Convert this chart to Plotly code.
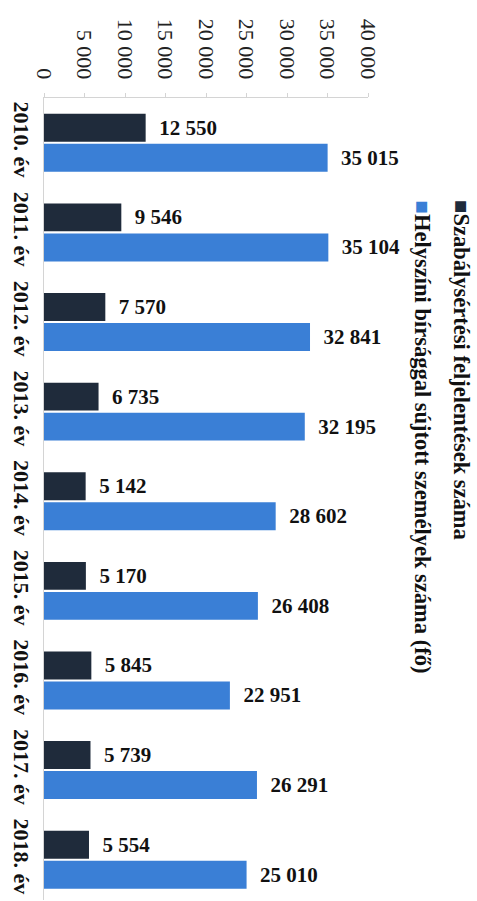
import plotly.graph_objects as go

categories = ["2010. év", "2011. év", "2012. év", "2013. év", "2014. év",
              "2015. év", "2016. év", "2017. év", "2018. év"]
feljelentesek = [12550, 9546, 7570, 6735, 5142, 5170, 5845, 5739, 5554]
helyszini = [35015, 35104, 32841, 32195, 28602, 26408, 22951, 26291, 25010]
tick_vals = [0, 5000, 10000, 15000, 20000, 25000, 30000, 35000, 40000]
tick_text = ["0", "5 000", "10 000", "15 000", "20 000", "25 000",
             "30 000", "35 000", "40 000"]

series_names = ["Szabálysértési feljelentések száma",
                "Helyszíni bírsággal sújtott személyek száma (fő)"]
colors = ["#1f2b3b", "#3a7fd6"]

FONT = "Liberation Serif"

fig = go.Figure()
for name, vals, col in zip(series_names, [feljelentesek, helyszini], colors):
    fig.add_trace(go.Bar(
        y=categories, x=vals, name=name, orientation="h",
        marker=dict(color=col, line=dict(width=0)),
        texttemplate="  %{x:,}", textposition="outside",
        textangle=0, cliponaxis=False,
        textfont=dict(family=FONT, size=21, color="#111111", weight="bold"),
        showlegend=False,
    ))

W, H = 477, 901
ml, mr, mt, mb = 44, 109, 98, 1
pw = W - ml - mr
ph = H - mt - mb

def px_x(p):
    return (p - ml) / pw

def px_y(p):
    return 1 - (p - mt) / ph

legend_x = [462, 422]
for name, col, lx in zip(series_names, colors, legend_x):
    fig.add_annotation(
        x=px_x(lx), y=px_y(198), xref="paper", yref="paper",
        xanchor="center", yanchor="top", textangle=90, showarrow=False,
        text="<span style='color:" + col + "'>■</span>" + name,
        font=dict(family=FONT, size=22.5, color="#111111", weight="bold"),
    )

fig.update_layout(
    width=W, height=H,
    margin=dict(l=ml, r=mr, t=mt, b=mb),
    paper_bgcolor="white", plot_bgcolor="white",
    barmode="group", bargap=0.33, bargroupgap=0.07,
    separators=", ",
    font=dict(family=FONT, color="#111111"),
    xaxis=dict(
        side="top", range=[0, 40000], tickvals=tick_vals, ticktext=tick_text,
        tickangle=90, showgrid=False, zeroline=False,
        showline=True, linecolor="#d4d4d4", linewidth=1,
        ticks="outside", ticklen=4, tickcolor="#d4d4d4",
        tickfont=dict(family=FONT, size=22, color="#222222"),
        ticklabelstandoff=6,
    ),
    yaxis=dict(
        categoryorder="array", categoryarray=categories,
        range=[8.45, -0.5], tickangle=90,
        showline=True, linecolor="#d4d4d4", linewidth=1,
        showgrid=False, ticks="",
        tickfont=dict(family=FONT, size=22, color="#111111", weight="bold"),
        ticklabelstandoff=3,
    ),
)

fig.write_html("out.html", config={"displayModeBar": False},
               post_script="document.body.style.margin='0';")
